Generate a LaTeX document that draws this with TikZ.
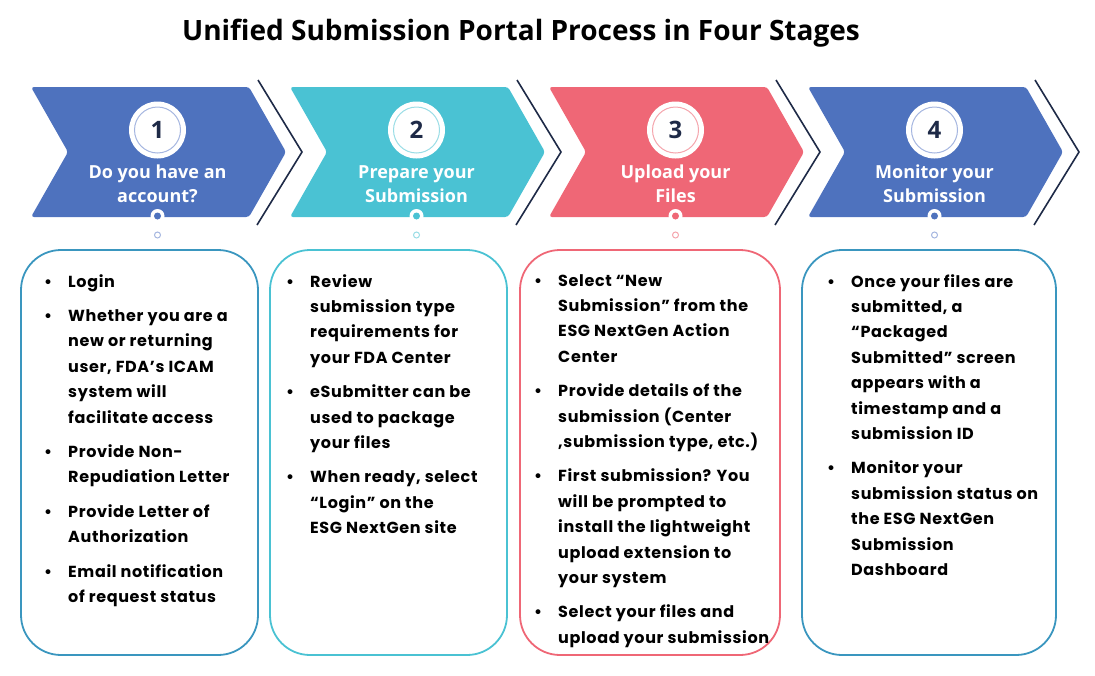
\documentclass[tikz,border=0pt]{standalone}
\usepackage{fontspec}
\setmainfont{Open Sans}
\newfontfamily\bodyfont[LetterSpace=4]{Poppins}
\definecolor{cblue}{HTML}{4E72BE}
\definecolor{ccyan}{HTML}{4AC2D3}
\definecolor{cpink}{HTML}{EF6776}
\definecolor{bblue}{HTML}{3A96BF}
\definecolor{navy}{HTML}{1E2A47}
\definecolor{rblue}{HTML}{A5B6E0}
\definecolor{rcyan}{HTML}{9ADDE6}
\definecolor{rpink}{HTML}{F5A5AD}
\newcommand{\bul}{\llap{\textbullet\hspace{16pt}}}
\tikzset{
  chev/.style={rounded corners=3pt},
  outl/.style={navy, line width=1.6pt},
  disc/.style={circle, fill=white, minimum size=57pt, inner sep=0pt},
  ring/.style={circle, line width=1pt, minimum size=46pt, inner sep=0pt, text=navy, font=\bfseries\fontsize{24}{28}\selectfont},
  ttl/.style={text=white, align=center, font=\bfseries\fontsize{18}{24}\selectfont},
  dotw/.style={circle, fill=white, minimum size=14pt, inner sep=0pt},
  dotc/.style={circle, minimum size=7pt, inner sep=0pt},
  doto/.style={circle, fill=white, line width=1pt, minimum size=6pt, inner sep=0pt},
  box/.style={draw, line width=1.8pt, rounded corners=40pt, minimum height=405pt, inner sep=0pt},
  txt/.style={anchor=north west, inner sep=0pt, align=left, font=\bodyfont\bfseries\fontsize{16}{25.4}\selectfont}
}
\begin{document}
\begin{tikzpicture}[x=1pt,y=-1pt]
\useasboundingbox (0,0) rectangle (1095,675);
\node (title) at (521,33) {\bfseries\fontsize{28}{32}\selectfont Unified Submission Portal Process in Four Stages};
\foreach \i/\fc/\rc/\num/\tt in {0/cblue/rblue/1/{Do you have an\\account?}, 1/ccyan/rcyan/2/{Prepare your\\Submission}, 2/cpink/rpink/3/{Upload your\\Files}, 3/cblue/rblue/4/{Monitor your\\Submission}}{
  \begin{scope}[xshift={259*\i pt}]
    \fill[\fc, chev] (31,87) -- (249,87) -- (286,152) -- (249,217) -- (31,217) -- (68,152) -- cycle;
    \draw[outl] (258,80) -- (302,152) -- (257,225);
    \node[disc] (c\num) at (157.5,130) {};
    \node[ring, draw=\rc] (n\num) at (c\num) {\num};
    \node[ttl] (t\num) at (157.5,184) {\tt};
    \node[dotw] (d\num) at (157.5,216) {};
    \node[dotc, fill=\fc] (dc\num) at (d\num) {};
    \node[doto, draw=\rc] (e\num) at (157.5,235) {};
  \end{scope}
}
\node[box, draw=bblue, minimum width=237pt] (b1) at (139.5,452.5) {};
\node[box, draw=ccyan, minimum width=237pt] (b2) at (388.5,452.5) {};
\node[box, draw=cpink, minimum width=260pt] (b3) at (650,452.5) {};
\node[box, draw=bblue, minimum width=254pt] (b4) at (929,452.5) {};
\node[txt] (x1) at (68,274) {\bul Login\\[9pt]
\bul Whether you are a\\new or returning\\user, FDA’s ICAM\\system will\\facilitate access\\[9pt]
\bul Provide Non-\\Repudiation Letter\\[9pt]
\bul Provide Letter of\\Authorization\\[9pt]
\bul Email notification\\of request status};
\node[txt] (x2) at (310,274) {\bul Review\\submission type\\requirements for\\your FDA Center\\[9pt]
\bul eSubmitter can be\\used to package\\your files\\[9pt]
\bul When ready, select\\“Login” on the\\ESG NextGen site};
\node[txt] (x3) at (558,274) {\bul Select “New\\Submission” from the\\ESG NextGen Action\\Center\\[9pt]
\bul Provide details of the\\submission (Center\\,submission type, etc.)\\[9pt]
\bul First submission? You\\will be prompted to\\install the lightweight\\upload extension to\\your system\\[9pt]
\bul Select your files and\\upload your submission};
\node[txt] (x4) at (851,274) {\bul Once your files are\\submitted, a\\“Packaged\\Submitted” screen\\appears with a\\timestamp and a\\submission ID\\[9pt]
\bul Monitor your\\submission status on\\the ESG NextGen\\Submission\\Dashboard};
\end{tikzpicture}
\end{document}
